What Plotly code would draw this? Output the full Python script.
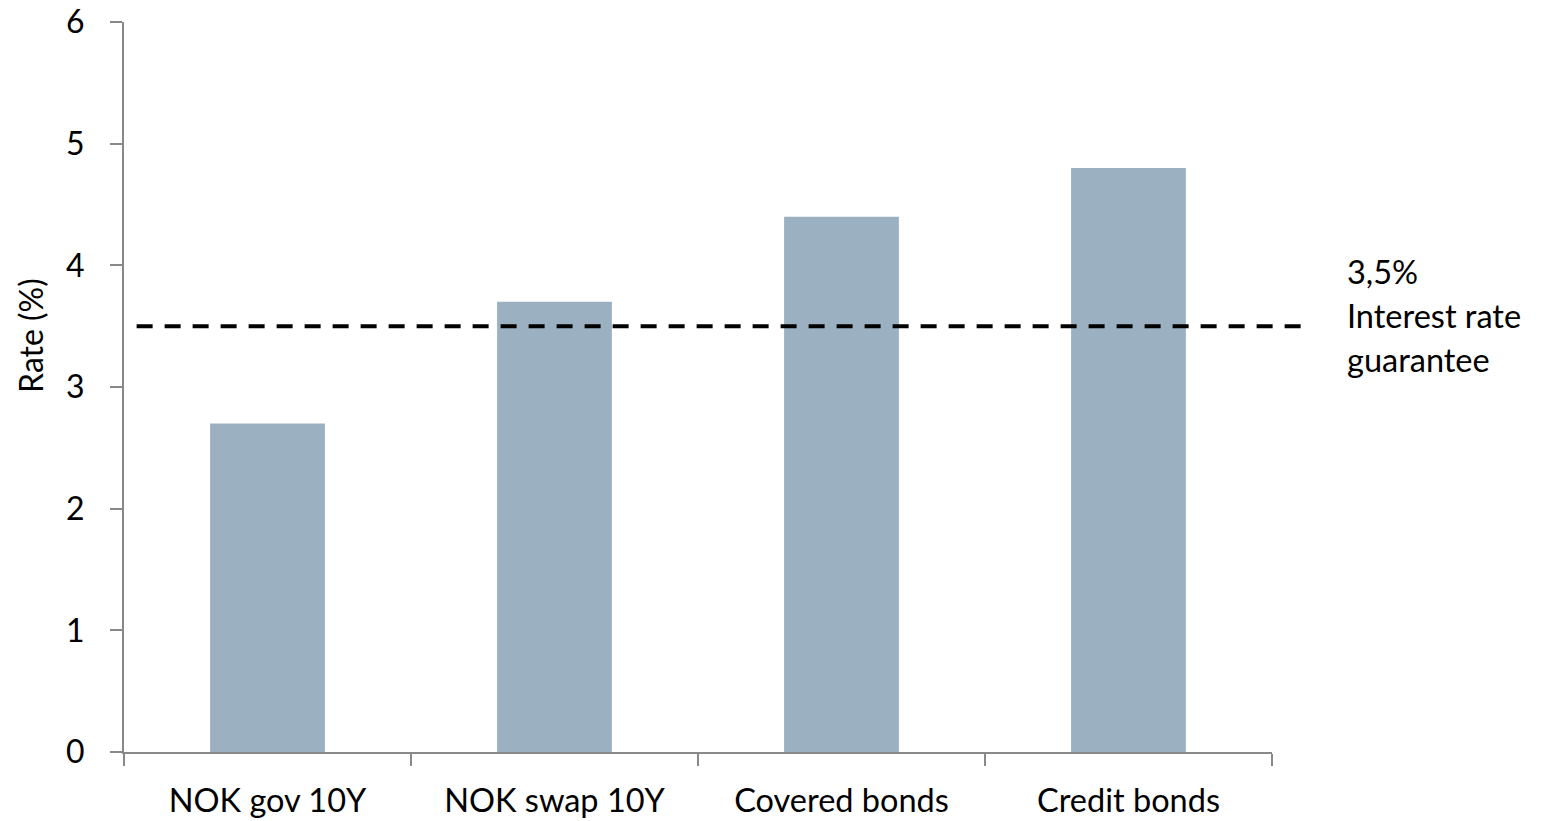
import plotly.graph_objects as go

# Yield levels by instrument, in percent
categories = ["NOK gov 10Y", "NOK swap 10Y", "Covered bonds", "Credit bonds"]
rates = [2.7, 3.7, 4.4, 4.8]

# Guaranteed interest rate reference level
guarantee_rate = 3.5
guarantee_label = ["3,5%", "Interest rate", "guarantee"]

y_ticks = [0, 1, 2, 3, 4, 5, 6]

FONT = "Lato"
BAR_COLOR = "#9BB1C1"
AXIS_COLOR = "#898989"

fig = go.Figure()
fig.add_trace(go.Bar(
    x=categories,
    y=rates,
    marker=dict(color=BAR_COLOR, line=dict(width=0)),
    width=0.4,
    showlegend=False,
    hoverinfo="x+y",
))

# Dashed guarantee line, running slightly past the plot area
fig.add_shape(
    type="line", xref="paper", yref="y",
    x0=0.011, x1=1.025, y0=guarantee_rate, y1=guarantee_rate,
    line=dict(color="black", width=4, dash="16px,12px"),
)

# Label next to the guarantee line, one line per annotation
for i, txt in enumerate(guarantee_label):
    fig.add_annotation(
        text=txt, xref="paper", yref="paper",
        x=1.064, y=0.658 - i * 0.0603,
        xanchor="left", yanchor="middle", showarrow=False,
        font=dict(family=FONT, size=32.5, color="black"),
    )

# Y-axis title
fig.add_annotation(
    text="Rate (%)", xref="paper", yref="paper",
    x=-0.081, y=0.57, xanchor="center", yanchor="middle",
    textangle=-90, showarrow=False,
    font=dict(family=FONT, size=32, color="black"),
)

fig.update_layout(
    width=1545, height=821,
    margin=dict(l=124, r=273, t=22, b=69, pad=0),
    paper_bgcolor="white", plot_bgcolor="white",
    font=dict(family=FONT, size=32, color="black"),
    bargap=0.6,
    xaxis=dict(
        showline=True, linecolor=AXIS_COLOR, linewidth=2,
        ticks="outside", tickson="boundaries", ticklen=12,
        tickcolor=AXIS_COLOR, tickwidth=2,
        showgrid=False, zeroline=False, automargin=False,
        tickfont=dict(family=FONT, size=32.5, color="black"),
        ticklabelstandoff=19,
    ),
    yaxis=dict(
        range=[0, 6], tickvals=y_ticks,
        showline=True, linecolor=AXIS_COLOR, linewidth=2,
        ticks="outside", ticklen=12, tickcolor=AXIS_COLOR, tickwidth=2,
        showgrid=False, zeroline=False, automargin=False,
        tickfont=dict(family=FONT, size=32, color="black"),
        ticklabelstandoff=19,
    ),
)

fig.write_html("out.html")
